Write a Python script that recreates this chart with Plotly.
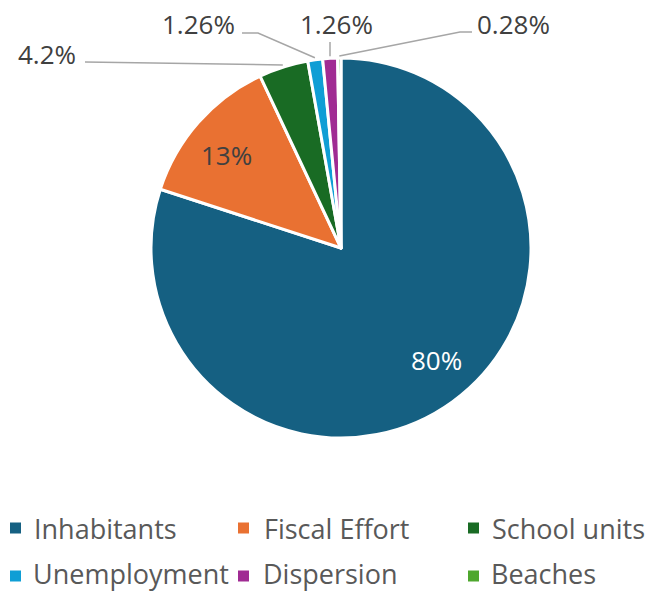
import math
import plotly.graph_objects as go

# Share of each criterion in the distribution formula
labels = ["Inhabitants", "Fiscal Effort", "School units", "Unemployment", "Dispersion", "Beaches"]
values = [80, 13, 4.2, 1.26, 1.26, 0.28]
colors = ["#156082", "#E97132", "#196B24", "#0F9ED5", "#A02B93", "#4EA72E"]

W, H = 648, 592
CX, CY, R = 341, 248, 190          # pie centre and radius in pixels
FONT = "Open Sans"
LABEL_COLOR = "#404040"
LEGEND_COLOR = "#595959"
LEADER_COLOR = "#A6A6A6"


def px(x):
    return x / W


def py(y):
    return 1 - y / H


def fmt(v):
    return f"{v:g}%"


fig = go.Figure(go.Pie(
    labels=labels,
    values=values,
    sort=False,
    direction="clockwise",
    rotation=0,
    marker=dict(colors=colors, line=dict(color="white", width=3)),
    textinfo="none",
    hoverinfo="label+percent",
    showlegend=False,
    domain=dict(x=[px(CX - R), px(CX + R)], y=[py(CY + R), py(CY - R)]),
))

# mid-angle of every slice, clockwise from 12 o'clock (degrees)
total = sum(values)
mid_angles = []
cum = 0.0
for v in values:
    mid_angles.append((cum + v / 2) / total * 360)
    cum += v


def edge_point(i, r):
    a = math.radians(mid_angles[i])
    return CX + r * math.sin(a), CY - r * math.cos(a)


annotations = []
shapes = []

# labels drawn inside the two largest slices: (index, x, y, colour)
inside = [(0, 436, 360, "white"), (1, 226, 155, LABEL_COLOR)]
for i, x, y, c in inside:
    annotations.append(dict(
        x=px(x), y=py(y), xref="paper", yref="paper", text=fmt(values[i]),
        showarrow=False, xanchor="center", yanchor="middle",
        font=dict(family=FONT, size=26, color=c)))

# outside labels with leader lines: (index, text x, text y, anchor, leader points near the text)
outside = [
    (2, 78, 54, "right", [(85, 62)]),
    (3, 198, 24, "center", [(242, 33), (258, 33)]),
    (4, 336, 24, "center", [(330, 42)]),
    (5, 513, 24, "center", [(472, 32), (460, 32)]),
]
for i, x, y, anchor, pts in outside:
    annotations.append(dict(
        x=px(x), y=py(y), xref="paper", yref="paper", text=fmt(values[i]),
        showarrow=False, xanchor=anchor, yanchor="middle",
        font=dict(family=FONT, size=26, color=LABEL_COLOR)))
    ex, ey = edge_point(i, R + 2)
    path_pts = pts + [(ex, ey)]
    path = "M " + " L ".join(f"{px(a):.5f},{py(b):.5f}" for a, b in path_pts)
    shapes.append(dict(type="path", path=path, xref="paper", yref="paper",
                       line=dict(color=LEADER_COLOR, width=1.5)))

# legend: three columns, two rows (second row sits on the bottom edge)
sq_left = [10, 238, 468]
txt_left = [32, 262, 490]
row_y = [528, 576]
SQ = 11
for k, (lab, col) in enumerate(zip(labels, colors)):
    r, c = divmod(k, 3)
    x0 = sq_left[c]
    yc = row_y[r]
    shapes.append(dict(type="rect", xref="paper", yref="paper",
                       x0=px(x0), x1=px(x0 + SQ), y0=py(yc + SQ / 2), y1=py(yc - SQ / 2),
                       fillcolor=col, line=dict(width=0)))
    if r == 0:
        text_pos = dict(y=py(yc), yanchor="middle")
    else:
        text_pos = dict(y=0, yanchor="bottom", borderpad=0, yshift=-1)
    annotations.append(dict(
        x=px(txt_left[c]), xref="paper", yref="paper", text=lab,
        showarrow=False, xanchor="left",
        font=dict(family=FONT, size=27, color=LEGEND_COLOR), **text_pos))

fig.update_layout(
    width=W, height=H,
    margin=dict(l=0, r=0, t=0, b=0),
    paper_bgcolor="white",
    plot_bgcolor="white",
    annotations=annotations,
    shapes=shapes,
)

fig.write_html("out.html")
